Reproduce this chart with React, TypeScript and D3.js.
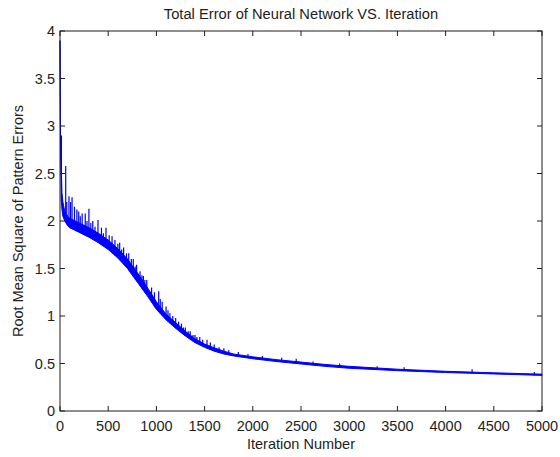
import React from "react";
import * as d3 from "d3";

// band of the RMS error trace (lower / upper edge of the dense oscillation)
const iterations = [0, 3, 6, 10, 15, 20, 30, 50, 80, 100, 200, 300, 400, 500, 600, 700, 800, 900, 1000, 1100, 1200, 1300, 1400, 1500, 1600, 1700, 1800, 2000, 2250, 2500, 2750, 3000, 3500, 4000, 4500, 5000];
const lowerErr = [3.85, 3.35, 2.75, 2.5, 2.2, 2.12, 2.05, 2.0, 1.95, 1.93, 1.88, 1.83, 1.77, 1.7, 1.61, 1.5, 1.36, 1.22, 1.07, 0.96, 0.87, 0.79, 0.72, 0.67, 0.63, 0.6, 0.58, 0.55, 0.52, 0.495, 0.47, 0.45, 0.425, 0.405, 0.39, 0.375];
const upperErr = [3.9, 3.4, 2.9, 2.75, 2.5, 2.3, 2.2, 2.1, 2.05, 2.03, 1.98, 1.93, 1.87, 1.8, 1.71, 1.6, 1.46, 1.31, 1.15, 1.02, 0.93, 0.84, 0.76, 0.705, 0.665, 0.63, 0.6, 0.57, 0.54, 0.515, 0.49, 0.47, 0.44, 0.418, 0.402, 0.388];

// isolated spikes above the band
const spikeIters = [15, 59, 70, 93, 110, 125, 150, 175, 194, 210, 230, 262, 280, 300, 320, 340, 363, 394, 430, 450, 477, 510, 540, 570, 600, 619, 640, 660, 690, 713, 740, 760, 780, 795, 830, 850, 865, 880, 900, 950, 980, 1024, 1040, 1060, 1100, 1120, 1140, 1170, 1200, 1230, 1260, 1280, 1300, 1330, 1350, 1380, 1400, 1420, 1450, 1480, 1525, 1560, 1600, 1650, 1700, 1750, 1850, 1950, 2100, 2300, 2450, 2625, 2900, 3290, 3570, 4275, 4920];
const spikePeaks = [2.9, 2.58, 2.2, 2.26, 2.2, 2.25, 2.15, 2.12, 2.1, 2.05, 2.08, 2.08, 2.0, 2.13, 1.98, 2.0, 1.94, 2.01, 1.93, 1.87, 1.93, 1.85, 1.84, 1.8, 1.76, 1.77, 1.7, 1.72, 1.66, 1.66, 1.6, 1.6, 1.52, 1.54, 1.47, 1.43, 1.42, 1.38, 1.38, 1.3, 1.25, 1.26, 1.18, 1.15, 1.1, 1.06, 1.03, 1.0, 0.98, 0.94, 0.92, 0.88, 0.88, 0.84, 0.84, 0.8, 0.8, 0.78, 0.78, 0.75, 0.75, 0.72, 0.7, 0.67, 0.66, 0.64, 0.62, 0.6, 0.58, 0.56, 0.55, 0.52, 0.5, 0.47, 0.46, 0.44, 0.41];

const xTicks = [0, 500, 1000, 1500, 2000, 2500, 3000, 3500, 4000, 4500, 5000];
const yTicks = [0, 0.5, 1, 1.5, 2, 2.5, 3, 3.5, 4];

const W = 560;
const H = 457;
const margin = { top: 31, right: 18, bottom: 46, left: 60 };
const innerW = W - margin.left - margin.right;
const innerH = H - margin.top - margin.bottom;

const font = "'Liberation Sans', Arial, sans-serif";
const ink = "#1e1e1e";
const blue = "#0000ff";

export default function App() {
  const x = d3.scaleLinear().domain([0, 5000]).range([0, innerW]);
  const y = d3.scaleLinear().domain([0, 4]).range([innerH, 0]);

  const band = iterations.map((it, i) => ({ it, lo: lowerErr[i], hi: upperErr[i] }));
  const area = d3
    .area<{ it: number; lo: number; hi: number }>()
    .x((d) => x(d.it))
    .y0((d) => y(d.lo))
    .y1((d) => y(d.hi));

  // base of each spike sits on the lower edge of the band
  const lowAt = d3.scaleLinear().domain(iterations).range(lowerErr);

  const tick = 5;

  return (
    <svg
      width={W}
      height={H}
      style={{ position: "absolute", left: 0, top: 0, background: "#fff" }}
    >
      <text
        x={margin.left + innerW / 2}
        y={19}
        textAnchor="middle"
        fontFamily={font}
        fontSize={14.7}
        fill={ink}
      >
        Total Error of Neural Network VS. Iteration
      </text>

      <g transform={`translate(${margin.left},${margin.top})`}>
        {/* trace */}
        <path d={area(band) ?? ""} fill={blue} stroke={blue} strokeWidth={1} />
        {spikeIters.map((it, i) => (
          <line
            key={i}
            x1={x(it)}
            x2={x(it)}
            y1={y(lowAt(it))}
            y2={y(spikePeaks[i])}
            stroke={blue}
            strokeWidth={1.2}
          />
        ))}

        {/* box */}
        <rect width={innerW} height={innerH} fill="none" stroke={ink} strokeWidth={1} />

        {/* x ticks */}
        {xTicks.map((t) => (
          <g key={"x" + t} transform={`translate(${x(t)},0)`}>
            <line y1={innerH} y2={innerH - tick} stroke={ink} />
            <line y1={0} y2={tick} stroke={ink} />
            <text
              y={innerH + 20}
              textAnchor="middle"
              fontFamily={font}
              fontSize={14.5}
              fill={ink}
            >
              {t}
            </text>
          </g>
        ))}

        {/* y ticks */}
        {yTicks.map((t) => (
          <g key={"y" + t} transform={`translate(0,${y(t)})`}>
            <line x1={0} x2={tick} stroke={ink} />
            <line x1={innerW} x2={innerW - tick} stroke={ink} />
            <text
              x={-5}
              dy="0.35em"
              textAnchor="end"
              fontFamily={font}
              fontSize={14.5}
              fill={ink}
            >
              {t}
            </text>
          </g>
        ))}

        <text
          x={innerW / 2}
          y={innerH + 38}
          textAnchor="middle"
          fontFamily={font}
          fontSize={14.5}
          fill={ink}
        >
          Iteration Number
        </text>
        <text
          transform={`translate(${-37},${innerH / 2}) rotate(-90)`}
          textAnchor="middle"
          fontFamily={font}
          fontSize={14.5}
          fill={ink}
        >
          Root Mean Square of Pattern Errors
        </text>
      </g>
    </svg>
  );
}
